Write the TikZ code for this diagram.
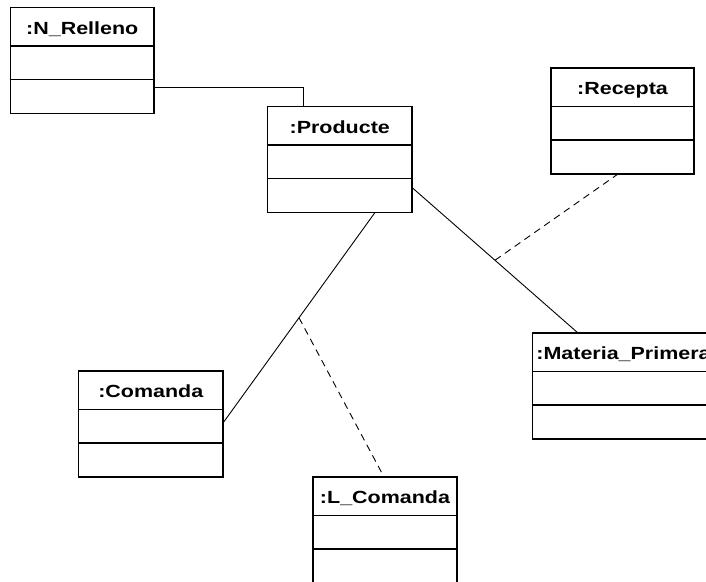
\documentclass[tikz,border=0pt]{standalone}
\usepackage{fontspec}
\newfontfamily\umlfont{Liberation Sans}[FakeStretch=1.22]
\usetikzlibrary{calc}

\tikzset{
  objbox/.style={draw, line width=1.9pt, rectangle, inner sep=0pt, outer sep=0pt,
                 minimum height=106pt},
  divider/.style={line width=1.9pt},
  objlabel/.style={anchor=base, inner sep=0pt,
                   font=\umlfont\bfseries\fontsize{17.6}{20}\selectfont},
  assoc/.style={line width=0.9pt},
  linkdash/.style={line width=0.9pt, dash pattern=on 7pt off 5pt},
}

% object box: name, x, y (top left), width, label
\newcommand\umlobj[5]{%
  \node[objbox, minimum width=#4pt, anchor=north west] (#1) at (#2,#3) {};
  \draw[divider] ([yshift=-38.5pt]#1.north west) -- ([yshift=-38.5pt]#1.north east);
  \draw[divider] ([yshift=-72pt]#1.north west) -- ([yshift=-72pt]#1.north east);
  \node[objlabel] (#1-label) at ([yshift=-26.5pt]#1.north) {#5};
}

\begin{document}
\begin{tikzpicture}[x=1pt, y=-1pt]
  \useasboundingbox (0,0) rectangle (706,581);
  \clip (0,0) rectangle (706,581);

  \umlobj{nrel}{10.5}{7.5}{143.5}{:N\_Relleno}
  \umlobj{prod}{267.5}{106.5}{144.5}{:Producte}
  \umlobj{rec}{551}{68}{143}{:Recepta}
  \umlobj{mat}{532.5}{333}{182}{:Materia\_Primera}
  \umlobj{com}{78.5}{371}{144.5}{:Comanda}
  \umlobj{lcom}{313}{477}{144}{:L\_Comanda}

  % associations
  \draw[assoc] ([yshift=26pt]nrel.south east) -| ([xshift=35.5pt]prod.north west);
  \draw[assoc] ([yshift=25pt]prod.south east)
      -- coordinate[pos=0.5] (pm) ([xshift=45.5pt]mat.north west);
  \draw[assoc] ([xshift=107.5pt]prod.south west)
      -- coordinate[pos=0.5] (pc) ([yshift=54pt]com.south east);

  % association links
  \draw[linkdash] (pm) -- ([xshift=67pt]rec.south west);
  \draw[linkdash] (pc) -- ([xshift=71pt]lcom.north west);
\end{tikzpicture}
\end{document}
